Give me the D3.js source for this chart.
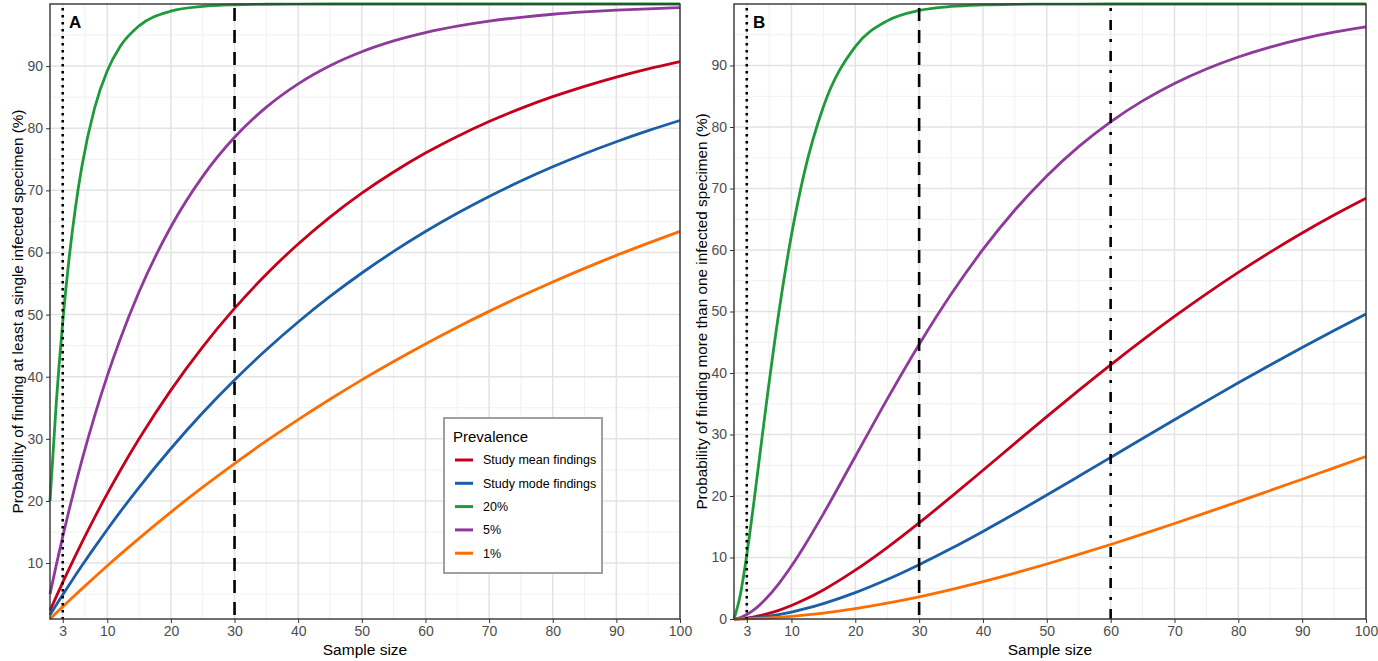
<!DOCTYPE html>
<html>
<head>
<meta charset="utf-8">
<script src="https://cdn.jsdelivr.net/npm/d3@7"></script>
<style>
body { margin:0; background:#fff; }
svg { font-family: Arial, "Liberation Sans", sans-serif; }
</style>
</head>
<body>
<svg id="chart" width="1378" height="661"></svg>
<script>
// sample sizes read along the x axis
var sampleSizes = [1,2,3,4,5,6,8,10,12,15,20,25,30,35,40,45,50,55,60,65,70,75,80,85,90,95,100]

// panel A : at least one infected specimen (%)
var aMean = [2.35,4.64,6.89,9.07,11.21,13.30,17.32,21.17,24.83,30.00,37.85,44.82,51.00,56.50,61.37,65.70,69.55,72.96,76.00,78.68,81.08,83.20,85.08,86.75,88.24,89.56,90.73]
var aMode = [1.66,3.29,4.90,6.48,8.03,9.56,12.53,15.41,18.20,22.20,28.45,34.20,39.48,44.34,48.81,52.92,56.70,60.17,63.37,66.31,69.02,71.50,73.79,75.90,77.83,79.61,81.25]
var a20 = [20,36,48.8,59.04,67.23,73.79,83.22,89.26,93.13,96.48,98.85,99.62,99.88,99.96,99.99,100,100,100,100,100,100,100,100,100,100,100,100]
var a5 = [5,9.75,14.26,18.55,22.62,26.49,33.66,40.13,45.96,53.67,64.15,72.26,78.54,83.39,87.15,90.06,92.31,94.05,95.39,96.43,97.24,97.86,98.35,98.72,99.01,99.23,99.41]
var a1 = [1,1.99,2.97,3.94,4.90,5.85,7.73,9.56,11.36,13.99,18.21,22.22,26.03,29.66,33.10,36.38,39.50,42.46,45.28,47.97,50.52,52.94,55.25,57.44,59.53,61.51,63.40]

// panel B : more than one infected specimen (%)
var bMean = [0,0.06,0.16,0.32,0.53,0.78,1.41,2.19,3.12,4.73,7.94,11.62,15.63,19.85,24.19,28.56,32.90,37.17,41.33,45.34,49.19,52.86,56.35,59.65,62.76,65.68,68.41]
var bMode = [0,0.03,0.08,0.16,0.27,0.40,0.72,1.13,1.63,2.51,4.29,6.42,8.83,11.45,14.24,17.15,20.15,23.20,26.27,29.35,32.40,35.43,38.40,41.31,44.15,46.91,49.59]
var b20 = [0,4.0,10.4,18.08,26.27,34.46,49.67,62.42,72.51,83.29,93.08,97.26,98.95,99.60,99.85,99.95,99.98,99.99,100,100,100,100,100,100,100,100,100]
var b5 = [0,0.25,0.73,1.40,2.26,3.28,5.72,8.61,11.84,17.10,26.42,35.76,44.65,52.80,60.09,66.50,72.05,76.81,80.84,84.24,87.08,89.44,91.39,93.00,94.33,95.41,96.29]
var b1 = [0,0.01,0.03,0.06,0.10,0.15,0.27,0.43,0.62,0.96,1.69,2.58,3.61,4.79,6.07,7.46,8.94,10.50,12.12,13.80,15.53,17.29,19.08,20.90,22.73,24.58,26.42]

var seriesNames = ["Study mean findings","Study mode findings","20%","5%","1%"]
var seriesColors = ["#c4001a","#1a5ea8","#1f9a3a","#8e3a9a","#ff6d00"]

var xTicks = [3,10,20,30,40,50,60,70,80,90,100]
var yTicks = [0,10,20,30,40,50,60,70,80,90]

var panels = [
	{ label:"A", left:50, right:680, yMin:1, series:[aMean,aMode,a20,a5,a1], vlines:[[3,"2.5,4.5"],[30,"13,9"]],
	  ytitle:"Probability of finding at least a single infected specimen (%)", legend:true },
	{ label:"B", left:734, right:1366, yMin:0, series:[bMean,bMode,b20,b5,b1], vlines:[[3,"2.5,4.5"],[30,"13,9"],[60,"3,9,10,9"]],
	  ytitle:"Probability of finding more than one infected specimen (%)", legend:false }
]

var svg = d3.select("#chart")
var plotTop = 4, plotBottom = 619

function drawPanel(p){
	var x = d3.scaleLinear().domain([1,100]).range([p.left,p.right])
	var y = d3.scaleLinear().domain([p.yMin,100]).range([plotBottom,plotTop])
	var g = svg.append("g")

	// minor grid
	var xMinor = [6.5,15,25,35,45,55,65,75,85,95]
	var yMinor = [5,15,25,35,45,55,65,75,85,95]
	g.selectAll(".xm").data(xMinor).enter().append("line")
		.attr("x1",d=>x(d)).attr("x2",d=>x(d)).attr("y1",plotTop).attr("y2",plotBottom)
		.style("stroke","#f0f0f0").style("stroke-width",1)
	g.selectAll(".ym").data(yMinor).enter().append("line")
		.attr("x1",p.left).attr("x2",p.right).attr("y1",d=>y(d)).attr("y2",d=>y(d))
		.style("stroke","#f0f0f0").style("stroke-width",1)
	// major grid
	g.selectAll(".xg").data(xTicks).enter().append("line")
		.attr("x1",d=>x(d)).attr("x2",d=>x(d)).attr("y1",plotTop).attr("y2",plotBottom)
		.style("stroke","#e3e3e3").style("stroke-width",1.5)
	g.selectAll(".yg").data(yTicks.filter(d=>d>=p.yMin)).enter().append("line")
		.attr("x1",p.left).attr("x2",p.right).attr("y1",d=>y(d)).attr("y2",d=>y(d))
		.style("stroke","#e3e3e3").style("stroke-width",1.5)

	// curves
	var line = d3.line().x((d,i)=>x(sampleSizes[i])).y(d=>y(d)).curve(d3.curveMonotoneX)
	p.series.forEach(function(s,i){
		g.append("path").attr("d",line(s))
			.style("fill","none").style("stroke",seriesColors[i]).style("stroke-width",2.8)
			.style("stroke-linejoin","round")
	})

	// reference lines
	p.vlines.forEach(function(v){
		g.append("line").attr("x1",x(v[0])).attr("x2",x(v[0])).attr("y1",plotTop+4).attr("y2",plotBottom)
			.style("stroke","#000").style("stroke-width",2.6).style("stroke-dasharray",v[1])
	})

	// axes
	var xAxis = d3.axisBottom(x).tickValues(xTicks).tickSize(4).tickPadding(3)
	var yAxis = d3.axisLeft(y).tickValues(yTicks.filter(d=>d>=p.yMin)).tickSize(4).tickPadding(3)
	var gx = g.append("g").attr("transform","translate(0,"+plotBottom+")").call(xAxis)
	var gy = g.append("g").attr("transform","translate("+p.left+",0)").call(yAxis)
	;[gx,gy].forEach(function(a){
		a.select(".domain").remove()
		a.selectAll("line").style("stroke","#333")
		a.selectAll("text").style("fill","#4d4d4d").style("font-size","14px")
	})

	// panel border
	g.append("rect").attr("x",p.left).attr("y",plotTop).attr("width",p.right-p.left).attr("height",plotBottom-plotTop)
		.style("fill","none").style("stroke","#333").style("stroke-width",1.4)

	g.append("text").attr("x",x(1)+19).attr("y",28).text(p.label)
		.style("font-weight","bold").style("font-size","17px").style("fill","#000")

	g.append("text").attr("x",(p.left+p.right)/2).attr("y",655).attr("text-anchor","middle")
		.text("Sample size").style("font-size","15.5px").style("fill","#000")

	g.append("text").attr("transform","translate("+(p.left-27)+","+((plotTop+plotBottom)/2)+") rotate(-90)")
		.attr("text-anchor","middle").text(p.ytitle).style("font-size","15.3px").style("fill","#000")

	if(p.legend){
		var lg = g.append("g")
		lg.append("rect").attr("x",444).attr("y",418).attr("width",158).attr("height",155)
			.style("fill","#fff").style("stroke","#a0a0a0").style("stroke-width",2)
		lg.append("text").attr("x",453).attr("y",442).text("Prevalence").style("font-size","15px").style("fill","#000")
		seriesNames.forEach(function(n,i){
			var yy = 460 + i*23.3
			lg.append("line").attr("x1",455).attr("x2",473).attr("y1",yy).attr("y2",yy)
				.style("stroke",seriesColors[i]).style("stroke-width",3)
			lg.append("text").attr("x",483).attr("y",yy).attr("dy","0.35em").text(n)
				.style("font-size","12.5px").style("fill","#000")
		})
	}
}

panels.forEach(drawPanel)
</script>
</body>
</html>
